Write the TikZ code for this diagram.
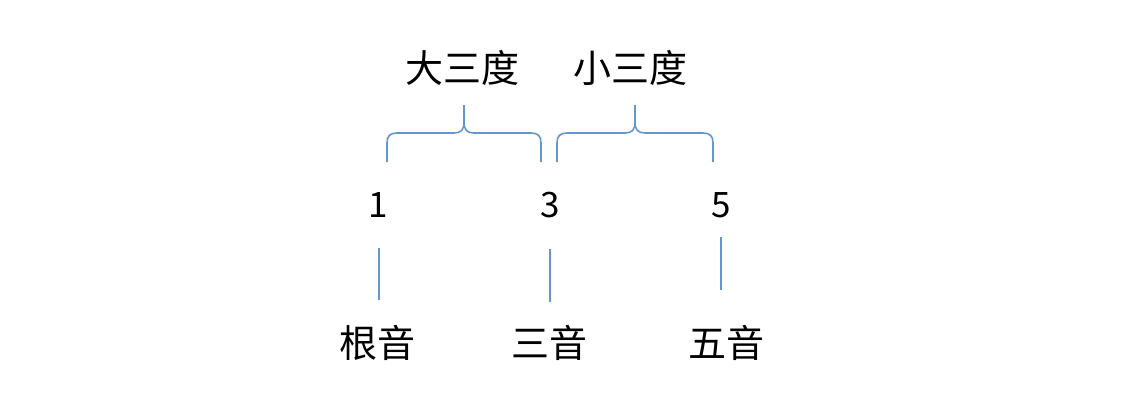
\documentclass[tikz,border=0pt]{standalone}
\usepackage{fontspec}
\setmainfont{Noto Sans CJK SC}
\definecolor{lineblue}{RGB}{100,150,205}
\begin{document}
\begin{tikzpicture}[x=1pt,y=1pt,
  cjk/.style={inner sep=0pt,font=\fontsize{38}{40}\selectfont},
  num/.style={inner sep=0pt,font=\fontsize{35}{38}\selectfont},
  bline/.style={draw=lineblue,line width=1.6pt},
  brace/.style={draw=lineblue,line width=1.6pt,line join=round}]
\useasboundingbox (0,0) rectangle (1130,-412);
% interval labels
\node[cjk] (maj) at (462,-68) {大三度};
\node[cjk] (min) at (630,-68) {小三度};
% braces
\draw[brace] (387,-162) -- (387,-143) .. controls (387,-136) and (390,-133) .. (397,-133)
  -- (454,-133) .. controls (461,-133) and (464,-130) .. (464,-122) -- (464,-105)
  (464,-122) .. controls (464,-130) and (467,-133) .. (474,-133)
  -- (531,-133) .. controls (538,-133) and (541,-136) .. (541,-143) -- (541,-162);
\draw[brace] (557,-162) -- (557,-143) .. controls (557,-136) and (560,-133) .. (567,-133)
  -- (625,-133) .. controls (632,-133) and (635,-130) .. (635,-122) -- (635,-105)
  (635,-122) .. controls (635,-130) and (638,-133) .. (645,-133)
  -- (703,-133) .. controls (710,-133) and (713,-136) .. (713,-143) -- (713,-162);
% numbers
\node[num] (n1) at (378,-205) {1};
\node[num] (n3) at (550,-205) {3};
\node[num] (n5) at (721,-205) {5};
% names
\node[cjk] (r1) at (377,-343) {根音};
\node[cjk] (r3) at (549,-343) {三音};
\node[cjk] (r5) at (726,-343) {五音};
% connectors
\coordinate (a1) at (379,-248); \coordinate (b1) at (379,-300);
\coordinate (a3) at (550,-249); \coordinate (b3) at (550,-302);
\coordinate (a5) at (721,-237); \coordinate (b5) at (721,-290);
\draw[bline] (a1) -- (b1);
\draw[bline] (a3) -- (b3);
\draw[bline] (a5) -- (b5);
\end{tikzpicture}
\end{document}
